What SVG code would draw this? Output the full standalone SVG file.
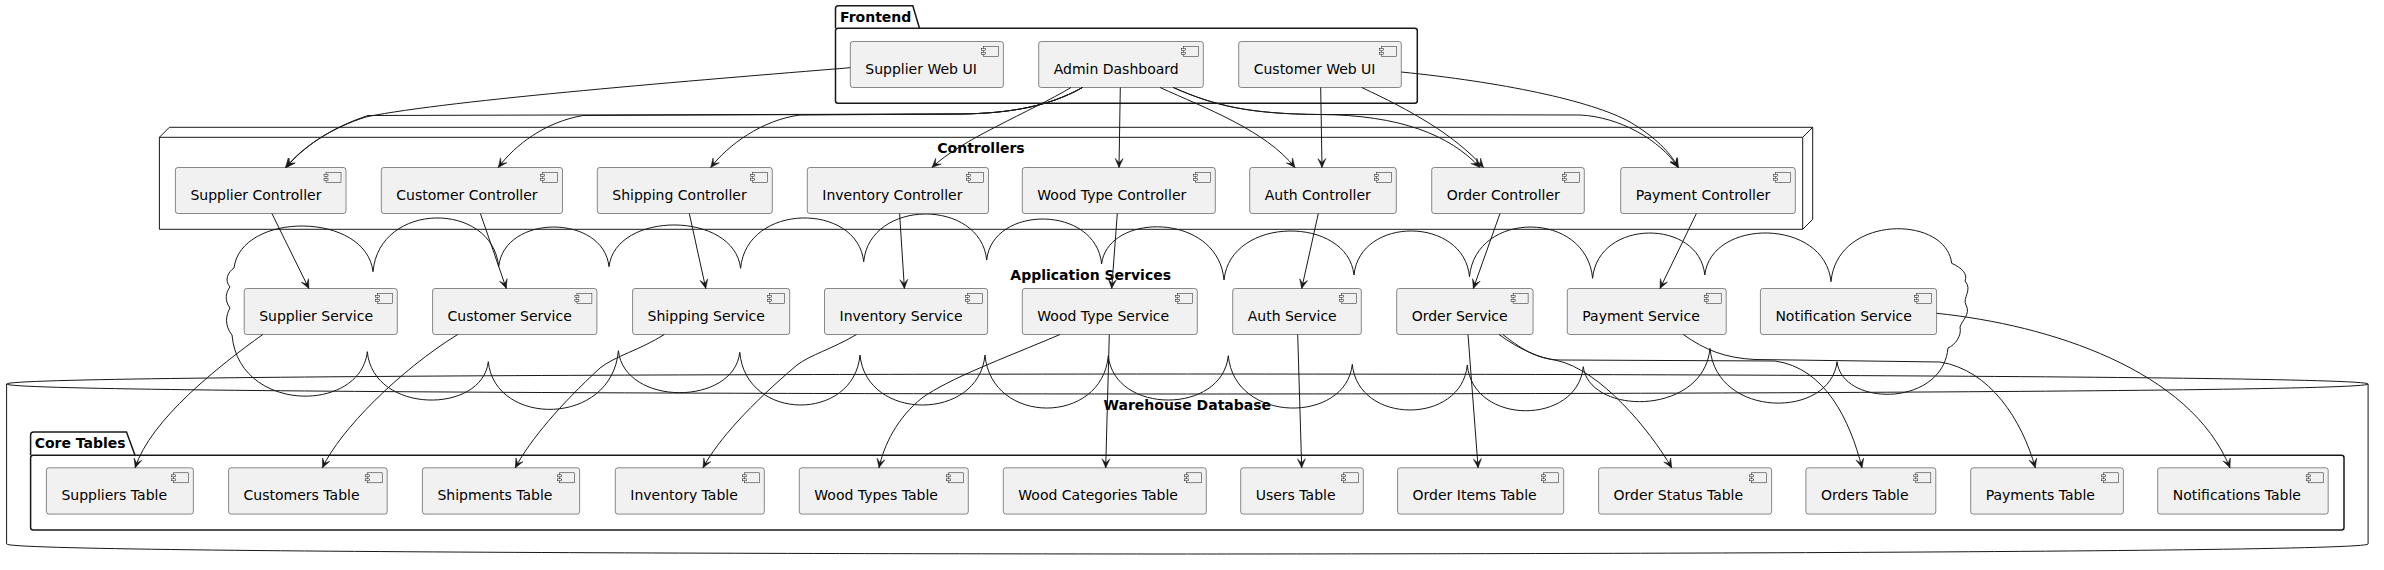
<svg xmlns="http://www.w3.org/2000/svg" width="2384" height="570" viewBox="0 0 2384 570">
<style>
.bg{fill:#FFFFFF}
.cont{fill:none;stroke:#181818;stroke-width:1}
.pkg{fill:none;stroke:#181818;stroke-width:1.5}
.comp{fill:#F1F1F1;stroke:#181818;stroke-width:0.5}
.ico{fill:#F1F1F1;stroke:#181818;stroke-width:0.5}
.lbl{font-family:"DejaVu Sans","Liberation Sans",sans-serif;font-size:14px;fill:#000000}
.title{font-family:"DejaVu Sans","Liberation Sans",sans-serif;font-size:14px;font-weight:bold;fill:#000000}
.edge{fill:none;stroke:#181818;stroke-width:1;marker-end:url(#arr)}
</style>
<defs>
<marker id="arr" viewBox="-10 -5 11 10" refX="0" refY="0" markerWidth="11" markerHeight="10" markerUnits="userSpaceOnUse" orient="auto">
<path d="M0,0 L-9,-4 L-5,0 L-9,4 Z" fill="#181818" stroke="#181818" stroke-width="0.5"/>
</marker>
</defs>
<rect class="bg" x="0" y="0" width="2384" height="570"/>

<g id="frontend">
<path class="pkg" d="M835.5,28.3 L835.5,8.7 Q835.5,5.7 838.5,5.7 L912.8,5.7 L919.5,28.3"/>
<rect class="pkg" x="835.5" y="28.3" width="581.8" height="75" rx="2.5" ry="2.5"/>
<text class="title" x="840" y="21.5">Frontend</text>
</g>

<g id="controllers">
<path class="cont" d="M159.4,137.3 L1802.7,137.3 L1802.7,229.3 L159.4,229.3 Z M159.4,137.3 L169.4,127.3 L1812.7,127.3 L1812.7,219.3 L1802.7,229.3 M1802.7,137.3 L1812.7,127.3"/>
<text class="title" x="981" y="152.7" text-anchor="middle">Controllers</text>
</g>

<g id="application-services">
<path class="cont" d="M234,268 C241,211.4 366,211.4 373,271.7 C379.3,200.9 492.4,200.9 498.7,266.7 C504.2,213.8 603.5,213.8 609,266.7 C615.6,210.8 734,210.8 740.6,268.3 C746.8,202.3 857.5,202.3 863.7,261.7 C869.9,198.4 980.5,198.4 986.7,260 C992.4,204.7 1095.9,204.7 1101.6,264 C1107.7,212 1217.9,212 1224,280 C1230.5,215.5 1347.5,215.5 1354,275 C1359.8,216 1463.7,216 1469.5,276.7 C1475.7,210.2 1586.4,210.2 1592.6,278.3 C1598.2,218.5 1699.2,218.5 1704.8,275 C1711.1,217.9 1824.7,217.9 1831,281.7 C1837,214.5 1945.7,214.5 1951.7,263.3 C1962,268 1968,274 1965,281 C1973,290 1962,298 1966,305 C1971,314 1962,320 1960,327 C1962,336 1955,345 1948,348 C1942.5,407.2 1842.6,407.2 1837,361.7 C1830.7,419 1716.4,419 1710,348.3 C1703.7,416 1589.6,416 1583.3,366.7 C1577.5,425.7 1473.1,425.7 1467.3,365 C1461.5,425.1 1358.1,425.1 1352.3,364.3 C1346.1,424 1234.5,424 1228.3,355.7 C1222.3,414.8 1114.3,414.8 1108.3,355.7 C1102.1,425.6 991.2,425.6 985,355 C978.8,421.7 866.3,421.7 860,355 C854,422.1 745.8,422.1 739.8,352.3 C733.7,406.4 624.5,406.4 618.4,350.7 C611.9,427 494.8,427 488.3,361.7 C482.3,414.4 373.3,414.4 367.3,351.7 C360.5,413.5 238.8,413.5 232,335 C224,325 226,315 230,308 C224,300 226,292 230,287 C224,280 228,272 234,268 Z"/>
<text class="title" x="1090.7" y="280" text-anchor="middle">Application Services</text>
</g>

<g id="warehouse-database">
<path class="cont" d="M6.6,384 C6.6,374 1187.35,374 1187.35,374 C1187.35,374 2368.1,374 2368.1,384 L2368.1,544 C2368.1,554 1187.35,554 1187.35,554 C1187.35,554 6.6,554 6.6,544 L6.6,384 Z M6.6,384 C6.6,394 1187.35,394 1187.35,394 C1187.35,394 2368.1,394 2368.1,384"/>
<text class="title" x="1187.3" y="410" text-anchor="middle">Warehouse Database</text>
</g>

<g id="core-tables">
<path class="pkg" d="M30.6,455.3 L30.6,435 Q30.6,432 33.6,432 L126.5,432 L135,455.3"/>
<rect class="pkg" x="30.6" y="455.3" width="2313.4" height="74.7" rx="2.5" ry="2.5"/>
<text class="title" x="34.7" y="448">Core Tables</text>
</g>

<!-- Frontend components -->
<g id="supplier-web-ui"><rect class="comp" x="850.3" y="41.5" width="153.1" height="46" rx="2.5"/><rect class="ico" x="983.4" y="46.5" width="15" height="10"/><rect class="ico" x="981.4" y="48.5" width="4" height="2"/><rect class="ico" x="981.4" y="52.5" width="4" height="2"/><text class="lbl" x="865.3" y="73.7">Supplier Web UI</text></g>
<g id="admin-dashboard"><rect class="comp" x="1038.7" y="41.5" width="164.6" height="46" rx="2.5"/><rect class="ico" x="1183.3" y="46.5" width="15" height="10"/><rect class="ico" x="1181.3" y="48.5" width="4" height="2"/><rect class="ico" x="1181.3" y="52.5" width="4" height="2"/><text class="lbl" x="1053.7" y="73.7">Admin Dashboard</text></g>
<g id="customer-web-ui"><rect class="comp" x="1238.7" y="41.5" width="162.6" height="46" rx="2.5"/><rect class="ico" x="1381.3" y="46.5" width="15" height="10"/><rect class="ico" x="1379.3" y="48.5" width="4" height="2"/><rect class="ico" x="1379.3" y="52.5" width="4" height="2"/><text class="lbl" x="1253.7" y="73.7">Customer Web UI</text></g>

<!-- Controllers -->
<g id="supplier-controller"><rect class="comp" x="175.4" y="167.5" width="170.6" height="46" rx="2.5"/><rect class="ico" x="326" y="172.5" width="15" height="10"/><rect class="ico" x="324" y="174.5" width="4" height="2"/><rect class="ico" x="324" y="178.5" width="4" height="2"/><text class="lbl" x="190.4" y="199.7">Supplier Controller</text></g>
<g id="customer-controller"><rect class="comp" x="381.3" y="167.5" width="181.2" height="46" rx="2.5"/><rect class="ico" x="542.5" y="172.5" width="15" height="10"/><rect class="ico" x="540.5" y="174.5" width="4" height="2"/><rect class="ico" x="540.5" y="178.5" width="4" height="2"/><text class="lbl" x="396.3" y="199.7">Customer Controller</text></g>
<g id="shipping-controller"><rect class="comp" x="597.3" y="167.5" width="175" height="46" rx="2.5"/><rect class="ico" x="752.3" y="172.5" width="15" height="10"/><rect class="ico" x="750.3" y="174.5" width="4" height="2"/><rect class="ico" x="750.3" y="178.5" width="4" height="2"/><text class="lbl" x="612.3" y="199.7">Shipping Controller</text></g>
<g id="inventory-controller"><rect class="comp" x="807.3" y="167.5" width="181.2" height="46" rx="2.5"/><rect class="ico" x="968.5" y="172.5" width="15" height="10"/><rect class="ico" x="966.5" y="174.5" width="4" height="2"/><rect class="ico" x="966.5" y="178.5" width="4" height="2"/><text class="lbl" x="822.3" y="199.7">Inventory Controller</text></g>
<g id="wood-type-controller"><rect class="comp" x="1022.3" y="167.5" width="193" height="46" rx="2.5"/><rect class="ico" x="1195.3" y="172.5" width="15" height="10"/><rect class="ico" x="1193.3" y="174.5" width="4" height="2"/><rect class="ico" x="1193.3" y="178.5" width="4" height="2"/><text class="lbl" x="1037.3" y="199.7">Wood Type Controller</text></g>
<g id="auth-controller"><rect class="comp" x="1249.7" y="167.5" width="146.6" height="46" rx="2.5"/><rect class="ico" x="1376.3" y="172.5" width="15" height="10"/><rect class="ico" x="1374.3" y="174.5" width="4" height="2"/><rect class="ico" x="1374.3" y="178.5" width="4" height="2"/><text class="lbl" x="1264.7" y="199.7">Auth Controller</text></g>
<g id="order-controller"><rect class="comp" x="1431.7" y="167.5" width="152.6" height="46" rx="2.5"/><rect class="ico" x="1564.3" y="172.5" width="15" height="10"/><rect class="ico" x="1562.3" y="174.5" width="4" height="2"/><rect class="ico" x="1562.3" y="178.5" width="4" height="2"/><text class="lbl" x="1446.7" y="199.7">Order Controller</text></g>
<g id="payment-controller"><rect class="comp" x="1620.7" y="167.5" width="174.6" height="46" rx="2.5"/><rect class="ico" x="1775.3" y="172.5" width="15" height="10"/><rect class="ico" x="1773.3" y="174.5" width="4" height="2"/><rect class="ico" x="1773.3" y="178.5" width="4" height="2"/><text class="lbl" x="1635.7" y="199.7">Payment Controller</text></g>

<!-- Services -->
<g id="supplier-service"><rect class="comp" x="244.2" y="288.5" width="153.1" height="46" rx="2.5"/><rect class="ico" x="377.3" y="293.5" width="15" height="10"/><rect class="ico" x="375.3" y="295.5" width="4" height="2"/><rect class="ico" x="375.3" y="299.5" width="4" height="2"/><text class="lbl" x="259.2" y="320.7">Supplier Service</text></g>
<g id="customer-service"><rect class="comp" x="432.6" y="288.5" width="164.3" height="46" rx="2.5"/><rect class="ico" x="576.9" y="293.5" width="15" height="10"/><rect class="ico" x="574.9" y="295.5" width="4" height="2"/><rect class="ico" x="574.9" y="299.5" width="4" height="2"/><text class="lbl" x="447.6" y="320.7">Customer Service</text></g>
<g id="shipping-service"><rect class="comp" x="632.6" y="288.5" width="157.1" height="46" rx="2.5"/><rect class="ico" x="769.7" y="293.5" width="15" height="10"/><rect class="ico" x="767.7" y="295.5" width="4" height="2"/><rect class="ico" x="767.7" y="299.5" width="4" height="2"/><text class="lbl" x="647.6" y="320.7">Shipping Service</text></g>
<g id="inventory-service"><rect class="comp" x="824.5" y="288.5" width="163.1" height="46" rx="2.5"/><rect class="ico" x="967.6" y="293.5" width="15" height="10"/><rect class="ico" x="965.6" y="295.5" width="4" height="2"/><rect class="ico" x="965.6" y="299.5" width="4" height="2"/><text class="lbl" x="839.5" y="320.7">Inventory Service</text></g>
<g id="wood-type-service"><rect class="comp" x="1022.3" y="288.5" width="175" height="46" rx="2.5"/><rect class="ico" x="1177.3" y="293.5" width="15" height="10"/><rect class="ico" x="1175.3" y="295.5" width="4" height="2"/><rect class="ico" x="1175.3" y="299.5" width="4" height="2"/><text class="lbl" x="1037.3" y="320.7">Wood Type Service</text></g>
<g id="auth-service"><rect class="comp" x="1232.7" y="288.5" width="128.6" height="46" rx="2.5"/><rect class="ico" x="1341.3" y="293.5" width="15" height="10"/><rect class="ico" x="1339.3" y="295.5" width="4" height="2"/><rect class="ico" x="1339.3" y="299.5" width="4" height="2"/><text class="lbl" x="1247.7" y="320.7">Auth Service</text></g>
<g id="order-service"><rect class="comp" x="1396.7" y="288.5" width="136.4" height="46" rx="2.5"/><rect class="ico" x="1513.1" y="293.5" width="15" height="10"/><rect class="ico" x="1511.1" y="295.5" width="4" height="2"/><rect class="ico" x="1511.1" y="299.5" width="4" height="2"/><text class="lbl" x="1411.7" y="320.7">Order Service</text></g>
<g id="payment-service"><rect class="comp" x="1567.3" y="288.5" width="158.9" height="46" rx="2.5"/><rect class="ico" x="1706.2" y="293.5" width="15" height="10"/><rect class="ico" x="1704.2" y="295.5" width="4" height="2"/><rect class="ico" x="1704.2" y="299.5" width="4" height="2"/><text class="lbl" x="1582.3" y="320.7">Payment Service</text></g>
<g id="notification-service"><rect class="comp" x="1760.4" y="288.5" width="176.2" height="46" rx="2.5"/><rect class="ico" x="1916.6" y="293.5" width="15" height="10"/><rect class="ico" x="1914.6" y="295.5" width="4" height="2"/><rect class="ico" x="1914.6" y="299.5" width="4" height="2"/><text class="lbl" x="1775.4" y="320.7">Notification Service</text></g>

<!-- Tables -->
<g id="suppliers-table"><rect class="comp" x="46.4" y="467.8" width="147" height="46.3" rx="2.5"/><rect class="ico" x="173.4" y="472.8" width="15" height="10"/><rect class="ico" x="171.4" y="474.8" width="4" height="2"/><rect class="ico" x="171.4" y="478.8" width="4" height="2"/><text class="lbl" x="61.4" y="500">Suppliers Table</text></g>
<g id="customers-table"><rect class="comp" x="228.6" y="467.8" width="158.6" height="46.3" rx="2.5"/><rect class="ico" x="367.2" y="472.8" width="15" height="10"/><rect class="ico" x="365.2" y="474.8" width="4" height="2"/><rect class="ico" x="365.2" y="478.8" width="4" height="2"/><text class="lbl" x="243.6" y="500">Customers Table</text></g>
<g id="shipments-table"><rect class="comp" x="422.4" y="467.8" width="157.2" height="46.3" rx="2.5"/><rect class="ico" x="559.6" y="472.8" width="15" height="10"/><rect class="ico" x="557.6" y="474.8" width="4" height="2"/><rect class="ico" x="557.6" y="478.8" width="4" height="2"/><text class="lbl" x="437.4" y="500">Shipments Table</text></g>
<g id="inventory-table"><rect class="comp" x="615.3" y="467.8" width="149" height="46.3" rx="2.5"/><rect class="ico" x="744.3" y="472.8" width="15" height="10"/><rect class="ico" x="742.3" y="474.8" width="4" height="2"/><rect class="ico" x="742.3" y="478.8" width="4" height="2"/><text class="lbl" x="630.3" y="500">Inventory Table</text></g>
<g id="wood-types-table"><rect class="comp" x="799.3" y="467.8" width="169" height="46.3" rx="2.5"/><rect class="ico" x="948.3" y="472.8" width="15" height="10"/><rect class="ico" x="946.3" y="474.8" width="4" height="2"/><rect class="ico" x="946.3" y="478.8" width="4" height="2"/><text class="lbl" x="814.3" y="500">Wood Types Table</text></g>
<g id="wood-categories-table"><rect class="comp" x="1003.3" y="467.8" width="203" height="46.3" rx="2.5"/><rect class="ico" x="1186.3" y="472.8" width="15" height="10"/><rect class="ico" x="1184.3" y="474.8" width="4" height="2"/><rect class="ico" x="1184.3" y="478.8" width="4" height="2"/><text class="lbl" x="1018.3" y="500">Wood Categories Table</text></g>
<g id="users-table"><rect class="comp" x="1240.7" y="467.8" width="122.6" height="46.3" rx="2.5"/><rect class="ico" x="1343.3" y="472.8" width="15" height="10"/><rect class="ico" x="1341.3" y="474.8" width="4" height="2"/><rect class="ico" x="1341.3" y="478.8" width="4" height="2"/><text class="lbl" x="1255.7" y="500">Users Table</text></g>
<g id="order-items-table"><rect class="comp" x="1397.6" y="467.8" width="166.1" height="46.3" rx="2.5"/><rect class="ico" x="1543.7" y="472.8" width="15" height="10"/><rect class="ico" x="1541.7" y="474.8" width="4" height="2"/><rect class="ico" x="1541.7" y="478.8" width="4" height="2"/><text class="lbl" x="1412.6" y="500">Order Items Table</text></g>
<g id="order-status-table"><rect class="comp" x="1598.6" y="467.8" width="173" height="46.3" rx="2.5"/><rect class="ico" x="1751.6" y="472.8" width="15" height="10"/><rect class="ico" x="1749.6" y="474.8" width="4" height="2"/><rect class="ico" x="1749.6" y="478.8" width="4" height="2"/><text class="lbl" x="1613.6" y="500">Order Status Table</text></g>
<g id="orders-table"><rect class="comp" x="1805.9" y="467.8" width="129.9" height="46.3" rx="2.5"/><rect class="ico" x="1915.8" y="472.8" width="15" height="10"/><rect class="ico" x="1913.8" y="474.8" width="4" height="2"/><rect class="ico" x="1913.8" y="478.8" width="4" height="2"/><text class="lbl" x="1820.9" y="500">Orders Table</text></g>
<g id="payments-table"><rect class="comp" x="1970.7" y="467.8" width="152.7" height="46.3" rx="2.5"/><rect class="ico" x="2103.4" y="472.8" width="15" height="10"/><rect class="ico" x="2101.4" y="474.8" width="4" height="2"/><rect class="ico" x="2101.4" y="478.8" width="4" height="2"/><text class="lbl" x="1985.7" y="500">Payments Table</text></g>
<g id="notifications-table"><rect class="comp" x="2157.7" y="467.8" width="170.5" height="46.3" rx="2.5"/><rect class="ico" x="2308.2" y="472.8" width="15" height="10"/><rect class="ico" x="2306.2" y="474.8" width="4" height="2"/><rect class="ico" x="2306.2" y="478.8" width="4" height="2"/><text class="lbl" x="2172.7" y="500">Notifications Table</text></g>

<g id="connectors">
<path class="edge" d="M850.3,67.7 C700,80 450,100 367,116.7 C330,128 302,148 286.5,167.5"/>
<path class="edge" d="M1082.4,87.5 C1050,106 1010,113.5 960,114 L368,115.5 C330,128 302,148 285.5,167.5"/>
<path class="edge" d="M1082.4,87.5 C1050,106 1010,113.5 960,114 L583,115.5 C545,122 515,145 498.3,167.5"/>
<path class="edge" d="M1082.4,87.5 C1050,106 1010,113.5 960,114 L800,115 C762,120 728,145 710.7,167.5"/>
<path class="edge" d="M1071,87.5 C1030,112 960,140 932,167.5"/>
<path class="edge" d="M1120.3,87.5 L1119,167.5"/>
<path class="edge" d="M1160,87.5 C1205,108 1265,130 1295,167.5"/>
<path class="edge" d="M1173.3,87.5 C1215,106 1250,114 1320,114.5 C1400,115 1450,135 1480,167.5"/>
<path class="edge" d="M1173.3,87.5 C1215,106 1250,114 1320,114.5 L1580,115 C1620,117 1660,140 1678.3,167.5"/>
<path class="edge" d="M1320.7,87.5 L1322,167.5"/>
<path class="edge" d="M1361.7,87.5 C1410,110 1455,135 1483.5,167.5"/>
<path class="edge" d="M1401.3,72 C1500,82 1590,100 1630,122 C1655,137 1670,152 1678.3,167.5"/>
<path class="edge" d="M271.9,213.5 L308.9,288.5"/>
<path class="edge" d="M480.4,213.5 L506.3,288.5"/>
<path class="edge" d="M689.3,213.5 L705.8,288.5"/>
<path class="edge" d="M899.6,213.5 L904.4,288.5"/>
<path class="edge" d="M1117.3,213.5 L1111.7,288.5"/>
<path class="edge" d="M1318.3,213.5 L1301.7,288.5"/>
<path class="edge" d="M1500,213.5 L1473.3,288.5"/>
<path class="edge" d="M1696.4,213.5 L1660,288.5"/>
<path class="edge" d="M262.8,334.5 C220,365 150,420 135.2,467.8"/>
<path class="edge" d="M457.7,334.5 C400,370 340,430 322.4,467.8"/>
<path class="edge" d="M664.3,334.5 C640,350 615,356 600,368 C560,405 530,440 515.3,467.8"/>
<path class="edge" d="M856.6,334.5 C830,350 812,354 797,365 C750,405 718,440 703,467.8"/>
<path class="edge" d="M1060,334.5 C1000,360 950,378 922,398 C897,418 884,445 879,467.8"/>
<path class="edge" d="M1109.3,334.5 L1105.7,467.8"/>
<path class="edge" d="M1297.7,334.5 L1301.7,467.8"/>
<path class="edge" d="M1468,334.5 L1478.1,467.8"/>
<path class="edge" d="M1499,334.5 C1520,350 1540,358 1557,360.5 C1600,370 1650,430 1671.7,467.8"/>
<path class="edge" d="M1502.8,334.5 C1525,352 1540,359.5 1560,360 L1775,361 C1825,368 1850,420 1862,467.8"/>
<path class="edge" d="M1683.3,334.5 C1705,350 1725,358 1755,359.5 L1940,362 C1990,370 2022,420 2035.3,467.8"/>
<path class="edge" d="M1936.6,313.3 C2050,325 2190,370 2230,467.8"/>
</g>
</svg>
